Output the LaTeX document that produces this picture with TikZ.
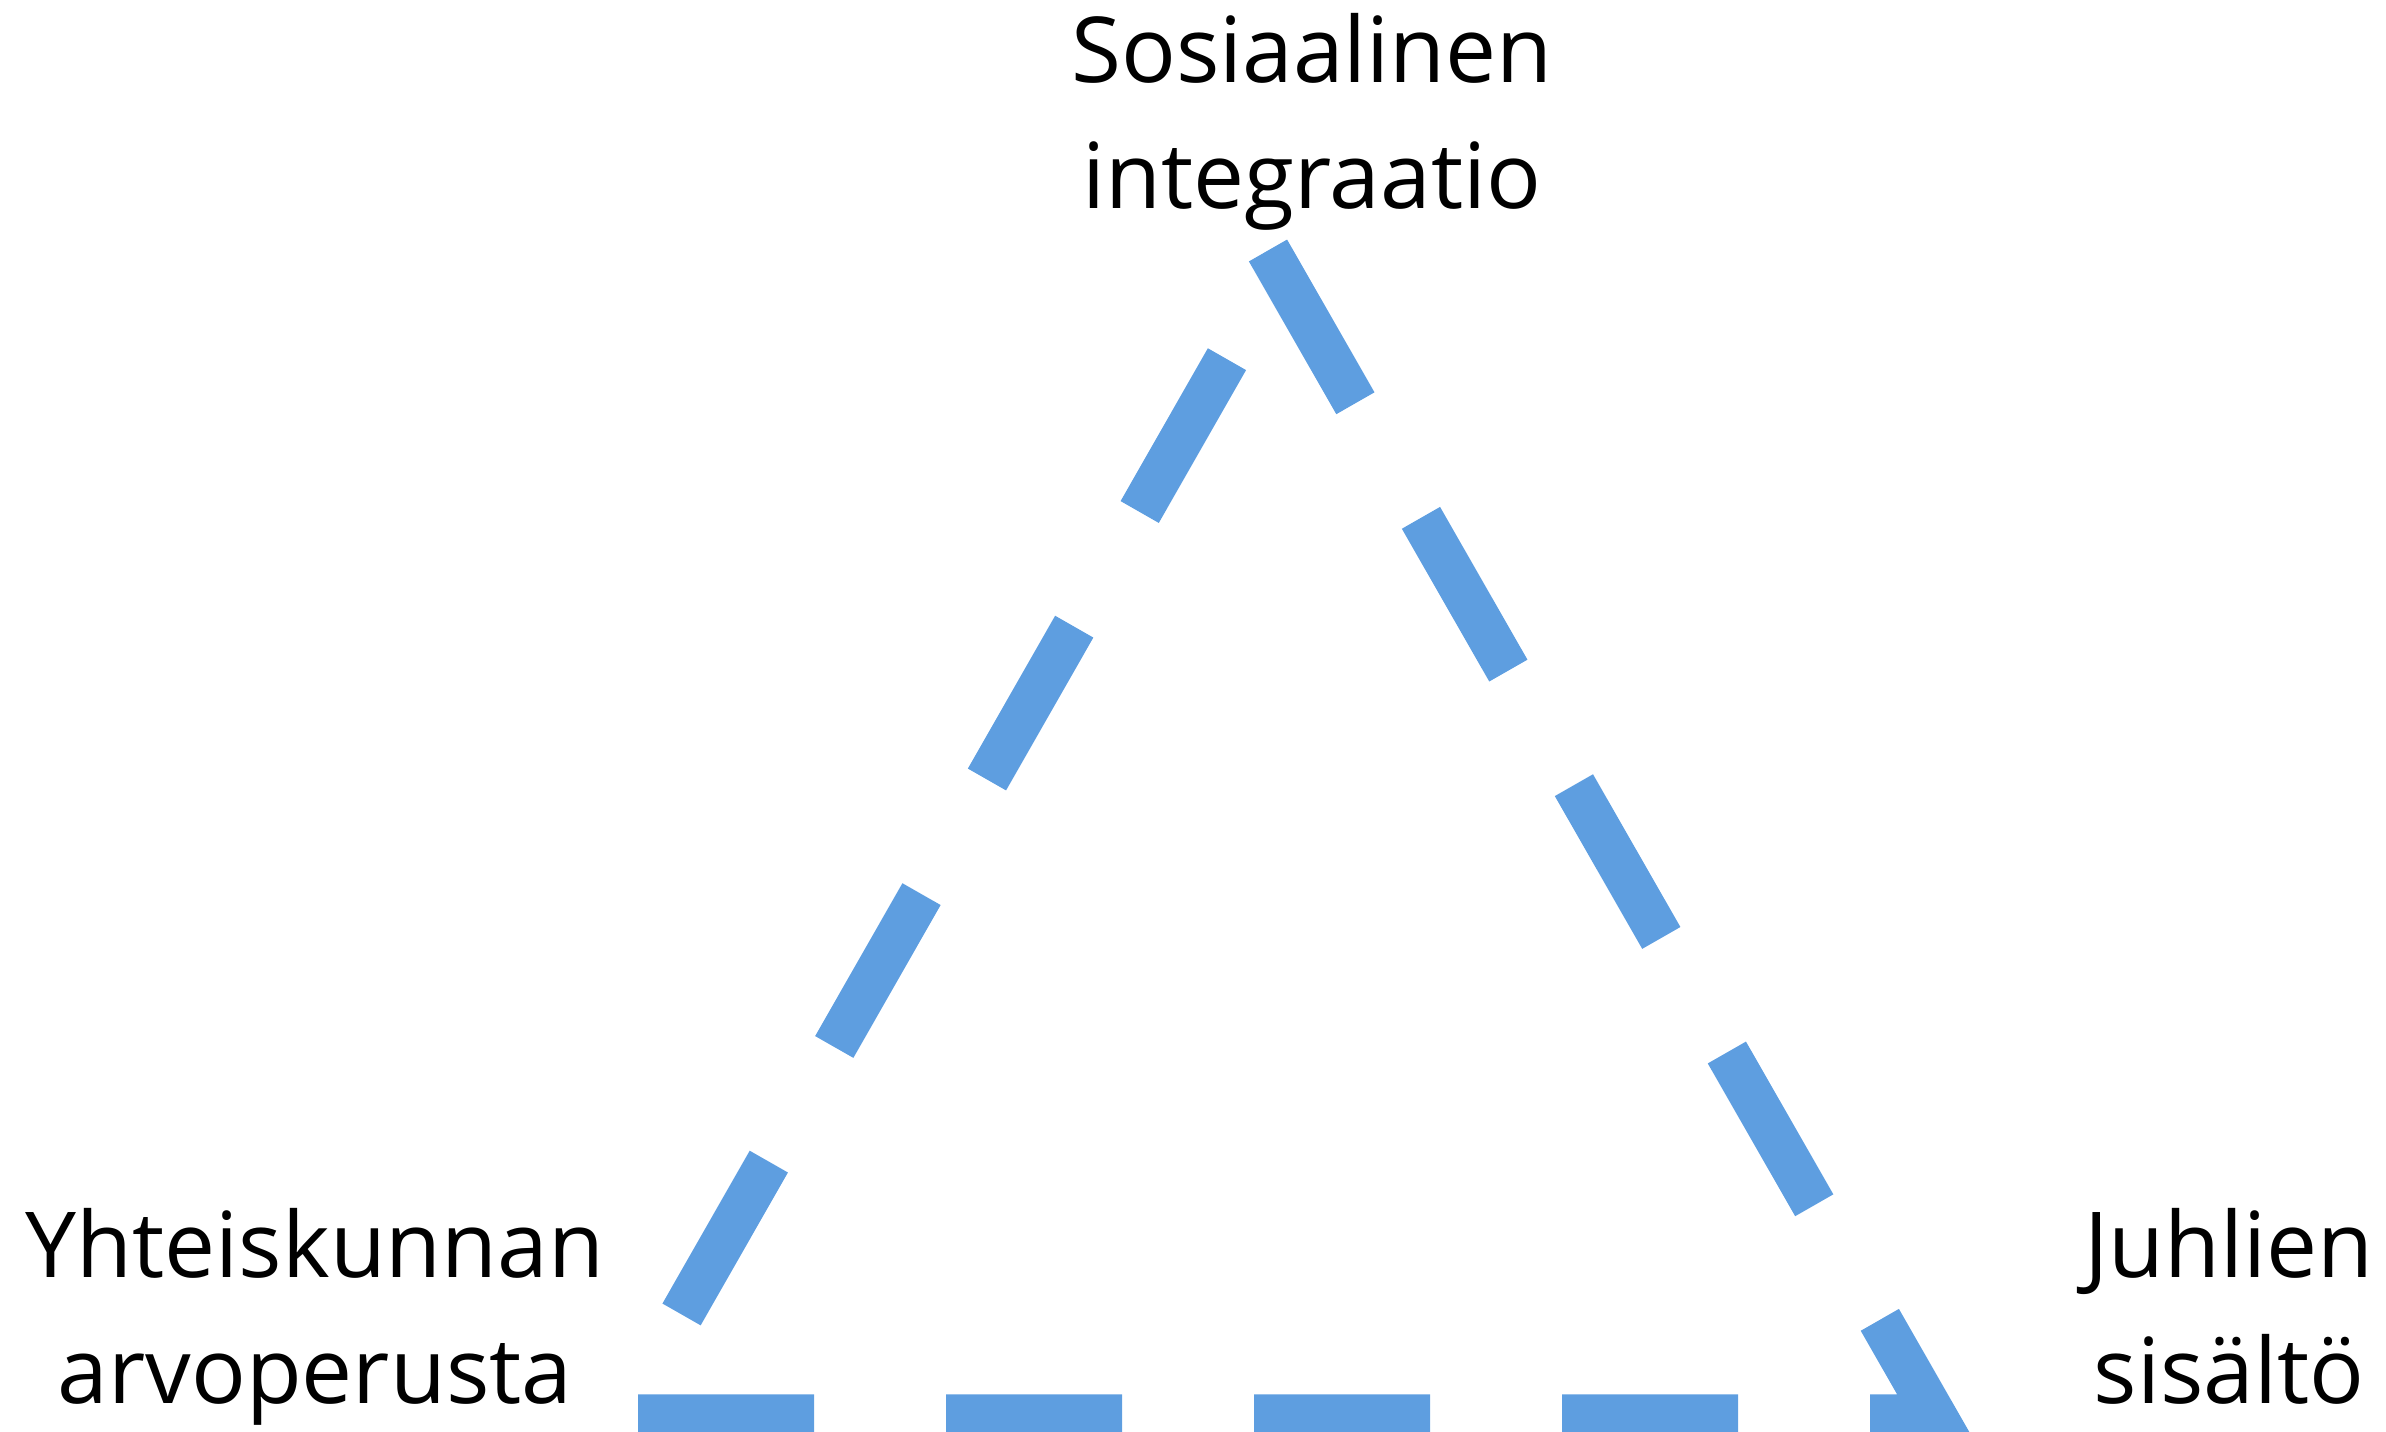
\documentclass[tikz,border=0pt]{standalone}
\usepackage{fontspec}
\setmainfont{Open Sans}
\definecolor{triblue}{RGB}{94,158,224}
\begin{document}
\begin{tikzpicture}[txt/.style = {align=center, inner sep=0pt, anchor=base, font=\fontsize{25.9pt}{36.1pt}\selectfont},
        tri/.style = {draw=triblue, line width=0.44cm, dash pattern=on 1.76cm off 1.32cm, line join=miter}]
        \useasboundingbox (0,0) rectangle (23.86,14.31);
        \coordinate (top) at (12.68,11.805);
        \coordinate (right) at (19.35,0.147);
        \coordinate (left) at (6.234,0.147);
        \coordinate (back) at (12.878,11.784);
        \draw[tri] (top) -- (right) -- (left) -- (back);
        \node[txt] (soc) at (13.12,12.22) {Sosiaalinen\\integraatio};
        \node[txt] (val) at (3.15,0.27) {Yhteiskunnan\\arvoperusta};
        \node[txt] (fest) at (22.29,0.27) {Juhlien\\sisältö};
    \end{tikzpicture}
\end{document}
